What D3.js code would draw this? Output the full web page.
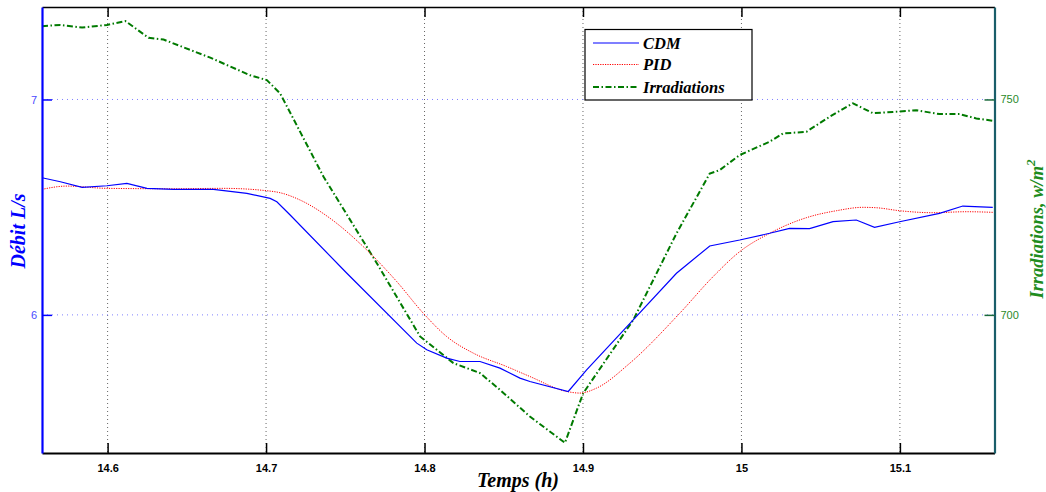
<!DOCTYPE html>
<html><head><meta charset="utf-8">
<script src="https://cdn.jsdelivr.net/npm/d3@7"></script>
<style>body{margin:0;background:#fff}</style>
</head><body><svg id="c" width="1046" height="492"></svg>
<script>
// ---- data ----
const xDomain = [14.5586, 15.1597];
const leftDomain = [5.3588, 7.4293];
const rightDomain = [667.94, 771.46];
const xTicks = [14.6, 14.7, 14.8, 14.9, 15, 15.1];
const xTickLabels = ["14.6", "14.7", "14.8", "14.9", "15", "15.1"];
const leftTicks = [6, 7];
const leftTickLabels = ["6", "7"];
const rightTicks = [700, 750];
const rightTickLabels = ["700", "750"];
const seriesNames = ["CDM", "PID", "Irradiations"];

const cdmX = [14.5586,14.5702,14.5839,14.5996,14.6122,14.6248,14.6416,14.6668,14.6879,14.7026,14.7068,14.7152,14.751,14.7951,14.8014,14.814,14.8224,14.835,14.8476,14.8602,14.8665,14.8907,14.9023,14.9317,14.959,14.980,14.9989,15.0178,15.0304,15.043,15.0578,15.0725,15.084,15.0998,15.125,15.1397,15.1586];
const cdmY = [6.6365,6.618,6.592,6.5994,6.6106,6.5874,6.5828,6.5828,6.5642,6.541,6.5253,6.4636,6.1933,5.8688,5.8377,5.7993,5.7835,5.7835,5.7529,5.7065,5.6908,5.6444,5.745,5.9768,6.1933,6.3199,6.3477,6.3788,6.4019,6.4001,6.4325,6.4404,6.4066,6.4325,6.4715,6.5053,6.4993];

const pidX = [14.5586,14.5744,14.5996,14.6416,14.6731,14.7005,14.7089,14.7215,14.7404,14.7614,14.7825,14.7992,14.814,14.8308,14.8518,14.8665,14.8897,14.8981,14.9086,14.9296,14.9611,14.9821,14.9989,15.0178,15.0262,15.043,15.0599,15.0767,15.0851,15.0998,15.1208,15.1419,15.1586];
const pidY = [6.5828,6.598,6.5874,6.5855,6.5874,6.5763,6.567,6.5331,6.4483,6.3166,6.1544,6.0079,5.8994,5.8224,5.7603,5.7139,5.6444,5.637,5.6602,5.776,6.0079,6.1775,6.2935,6.3788,6.4093,6.4557,6.4835,6.4993,6.4974,6.4835,6.4743,6.4789,6.4761];

const irrX = [14.5586,14.5702,14.5839,14.5996,14.6112,14.6259,14.6353,14.6648,14.6900,14.7005,14.7089,14.7362,14.7699,14.7972,14.8182,14.8350,14.8476,14.8665,14.8886,14.9001,14.9317,14.9590,14.9800,14.9863,14.9989,15.0178,15.0262,15.0410,15.0557,15.0704,15.0830,15.0956,15.1103,15.1250,15.1376,15.1482,15.1597];
const irrY = [767.0,767.3,766.7,767.3,768.2,764.3,763.9,759.7,755.6,754.5,751.4,732.1,712.0,695.0,688.8,686.5,682.6,676.4,670.3,681.8,698.8,718.9,732.8,733.6,737.1,740.2,742.1,742.5,746.0,749.1,746.8,747.1,747.5,746.6,746.6,745.6,745.0];

// ---- layout ----
const L = 42, R = 994.5, T = 7, B = 453;
const svg = d3.select("#c");
const x = d3.scaleLinear().domain(xDomain).range([L, R]);
const yl = d3.scaleLinear().domain(leftDomain).range([B, T]);
const yr = d3.scaleLinear().domain(rightDomain).range([B, T]);

const blue = "#0000ff", red = "#ff0000", green = "#007a00";

// grid
const g = svg.append("g");
xTicks.forEach(t => {
  g.append("line").attr("x1", x(t)).attr("x2", x(t)).attr("y1", T).attr("y2", B)
   .attr("stroke", "#666").attr("stroke-width", 1).attr("stroke-dasharray", "1,3");
});
leftTicks.forEach(t => {
  g.append("line").attr("x1", L).attr("x2", R).attr("y1", yl(t)).attr("y2", yl(t))
   .attr("stroke", "#8080ff").attr("stroke-width", 1).attr("stroke-dasharray", "1,4");
});

// lines
const line = (xs, ys, ys_scale, curve) => d3.line()
  .x((d, i) => x(xs[i])).y((d, i) => ys_scale(ys[i])).curve(curve || d3.curveLinear)(ys);

svg.append("path").attr("d", line(irrX, irrY, yr)).attr("fill", "none")
  .attr("stroke", green).attr("stroke-width", 2).attr("stroke-dasharray", "6,2.5,1.5,2.5");
svg.append("path").attr("d", line(pidX, pidY, yl, d3.curveMonotoneX)).attr("fill", "none")
  .attr("stroke", red).attr("stroke-width", 1).attr("stroke-dasharray", "1.2,1.2");
svg.append("path").attr("d", line(cdmX, cdmY, yl)).attr("fill", "none")
  .attr("stroke", blue).attr("stroke-width", 1.2);

// axes (MATLAB style, inward ticks)
const xb = d3.axisBottom(x).tickValues(xTicks).tickFormat((d, i) => xTickLabels[i]).tickSizeInner(-10).tickSizeOuter(0).tickPadding(11);
const gx = svg.append("g").attr("transform", `translate(0,${B})`).call(xb);
gx.select(".domain").attr("stroke", "#000").attr("stroke-width", 2);
gx.selectAll(".tick line").attr("stroke", "#000").attr("stroke-width", 1.5);
gx.selectAll("text").attr("font-family", "Liberation Sans, Arial, sans-serif").attr("font-size", 11).attr("font-weight", "bold").attr("fill", "#000");

const xt = d3.axisTop(x).tickValues(xTicks).tickFormat("").tickSizeInner(-10).tickSizeOuter(0);
const gxt = svg.append("g").attr("transform", `translate(0,${T})`).call(xt);
gxt.select(".domain").attr("stroke", "#000").attr("stroke-width", 1.5);
gxt.selectAll(".tick line").attr("stroke", "#000").attr("stroke-width", 1.5);

const ya = d3.axisLeft(yl).tickValues(leftTicks).tickFormat((d, i) => leftTickLabels[i]).tickSizeInner(-10).tickSizeOuter(0).tickPadding(5);
const gyl = svg.append("g").attr("transform", `translate(${L},0)`).call(ya);
gyl.select(".domain").attr("stroke", blue).attr("stroke-width", 2.2);
gyl.selectAll(".tick line").attr("stroke", blue).attr("stroke-width", 1.5);
gyl.selectAll("text").attr("font-family", "Liberation Sans, Arial, sans-serif").attr("font-size", 11).attr("fill", "#4a4aff");

const yb = d3.axisRight(yr).tickValues(rightTicks).tickFormat((d, i) => rightTickLabels[i]).tickSizeInner(-10).tickSizeOuter(0).tickPadding(6);
const gyr = svg.append("g").attr("transform", `translate(${R},0)`).call(yb);
gyr.select(".domain").attr("stroke", "#1a5e6a").attr("stroke-width", 2.2);
gyr.selectAll(".tick line").attr("stroke", "#1a6a3a").attr("stroke-width", 1.5);
gyr.selectAll("text").attr("font-family", "Liberation Sans, Arial, sans-serif").attr("font-size", 11).attr("fill", "#2a8a2a");

// axis titles
const serif = "Liberation Serif, Times New Roman, serif";
svg.append("text").attr("x", 518).attr("y", 487).attr("text-anchor", "middle")
  .attr("font-family", serif).attr("font-size", 20).attr("font-weight", "bold").attr("font-style", "italic")
  .attr("fill", "#000").text("Temps (h)");
svg.append("text").attr("transform", "translate(25,231) rotate(-90)").attr("text-anchor", "middle")
  .attr("font-family", serif).attr("font-size", 20).attr("font-weight", "bold").attr("font-style", "italic")
  .attr("fill", blue).text("Débit L/s");
const rt = svg.append("text").attr("transform", "translate(1043,229) rotate(-90)").attr("text-anchor", "middle")
  .attr("font-family", serif).attr("font-size", 18.5).attr("font-weight", "bold").attr("font-style", "italic")
  .attr("fill", "#1e8c1e");
rt.append("tspan").text("Irradiations, w/m");
rt.append("tspan").attr("dy", -8).attr("font-size", 13).text("2");

// legend
const lg = svg.append("g");
lg.append("rect").attr("x", 585).attr("y", 29.5).attr("width", 167).attr("height", 70.5)
  .attr("fill", "#fff").attr("stroke", "#000").attr("stroke-width", 1.2);
const legStyles = [
  {c: blue, w: 1.2, d: null},
  {c: red, w: 1, d: "1.2,1.2"},
  {c: green, w: 2, d: "6,2.5,1.5,2.5"}
];
const rowsY = [43, 64.5, 87];
seriesNames.forEach((n, i) => {
  const l = lg.append("line").attr("x1", 593).attr("x2", 639).attr("y1", rowsY[i]).attr("y2", rowsY[i])
    .attr("stroke", legStyles[i].c).attr("stroke-width", legStyles[i].w);
  if (legStyles[i].d) l.attr("stroke-dasharray", legStyles[i].d);
  lg.append("text").attr("x", 643).attr("y", rowsY[i] + 5.5)
    .attr("font-family", serif).attr("font-size", 16.5).attr("font-weight", "bold").attr("font-style", "italic")
    .attr("fill", "#000").text(n);
});
</script></body></html>
